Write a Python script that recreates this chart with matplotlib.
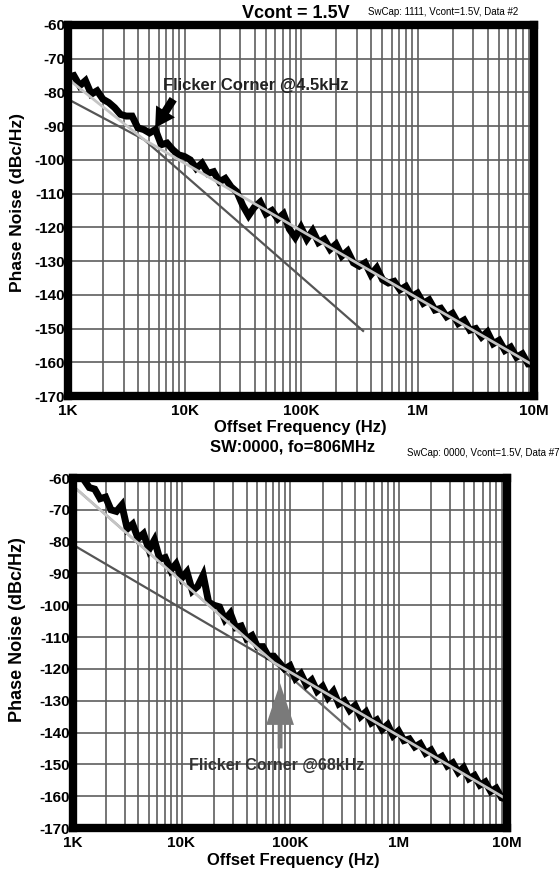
import numpy as np
import matplotlib
matplotlib.use("Agg")
import matplotlib.pyplot as plt
from matplotlib.patches import FancyArrowPatch
from matplotlib.ticker import FixedLocator, LogLocator, NullFormatter

plt.rcParams['font.family'] = ['Liberation Sans', 'DejaVu Sans']

# ---- data -------------------------------------------------------------
# analyzer sweep grid: 20 points per decade, 1 kHz .. 10 MHz
freq_top = 10 ** (3 + np.arange(81) / 20)
freq_bot = 10 ** (3 + np.arange(2, 81) / 20)

pn_top = [-75.5, -75.0, -78.0, -76.5, -80.5, -79.5, -82.0, -83.0, -84.5, -86.5,
          -87.0, -87.0, -90.5, -91.0, -92.0, -91.0, -95.5, -95.0, -97.0, -98.5,
          -99.0, -100.0, -102.5, -101.0, -104.0, -103.5, -106.5, -105.5, -108.0, -109.5,
          -113.5, -116.5, -114.0, -112.5, -116.0, -115.0, -117.5, -116.0, -120.5, -123.0,
          -120.0, -123.5, -121.0, -124.5, -123.5, -126.5, -125.0, -128.5, -127.0, -130.5,
          -131.5, -130.5, -134.0, -132.0, -135.5, -136.5, -136.0, -138.5, -137.5, -140.5,
          -139.5, -142.5, -141.5, -144.5, -144.0, -146.5, -145.5, -148.5, -147.5, -150.5,
          -150.0, -152.5, -151.0, -154.5, -153.5, -156.5, -155.5, -158.5, -157.5, -160.5,
          -160.5]

pn_bot = [-60.5, -63.0, -63.5, -66.5, -66.0, -70.0, -70.5, -68.5,
          -76.0, -74.5, -79.0, -77.5, -82.5, -79.5, -85.5, -85.0, -89.0, -87.0,
          -91.5, -89.5, -95.5, -94.0, -90.5, -99.0, -100.0, -100.5, -104.5, -102.5,
          -107.0, -106.5, -110.5, -109.5, -113.0, -113.0, -116.0, -116.0, -118.0, -120.0,
          -119.0, -123.0, -121.5, -125.0, -123.5, -127.0, -125.5, -129.0, -127.0, -131.0,
          -130.0, -133.0, -131.5, -135.0, -133.5, -137.0, -136.0, -139.0, -137.5, -141.0,
          -139.5, -142.5, -142.0, -144.5, -143.5, -146.5, -145.5, -148.5, -147.5, -150.5,
          -149.5, -152.5, -151.0, -154.5, -153.5, -156.5, -155.5, -158.5, -157.5, -160.5,
          -161.0]

# fitted model (light) and asymptotes (dark), vertices in (Hz, dBc/Hz)
fit_top_f = [1e3, 4.5e3, 1e7]
fit_top_l = [-76.0, -94.0, -161.0]
asym_top_f = [1e3, 4.5e3, 3.41e5]
asym_top_l = [-82.0, -94.0, -150.7]

fit_bot_f = [1e3, 7.1e4, 1e7]
fit_bot_l = [-62.5, -118.0, -161.0]
asym2_bot_f = [1e3, 1e7]
asym2_bot_l = [-81.0, -161.0]
asym3_bot_f = [1e3, 3.57e5]
asym3_bot_l = [-62.5, -139.0]

x_ticks = [1e3, 1e4, 1e5, 1e6, 1e7]
x_ticklabels = ['1K', '10K', '100K', '1M', '10M']
y_ticks = list(range(-170, -59, 10))

W, H = 560, 872
fig = plt.figure(figsize=(W / 100, H / 100), dpi=100)


def axes_px(left, top, right, bottom):
    return fig.add_axes([left / W, 1 - bottom / H, (right - left) / W, (bottom - top) / H])


def style(ax):
    ax.set_xscale('log')
    ax.set_xlim(1e3, 1e7)
    ax.set_ylim(-170, -60)
    ax.xaxis.set_major_locator(FixedLocator(x_ticks))
    ax.xaxis.set_minor_locator(LogLocator(base=10, subs=np.arange(2, 10)))
    ax.xaxis.set_minor_formatter(NullFormatter())
    ax.set_xticklabels(x_ticklabels)
    ax.set_yticks(y_ticks)
    ax.set_yticklabels([str(v) for v in y_ticks])
    ax.tick_params(which='both', length=0)
    ax.tick_params(axis='y', pad=2)
    ax.tick_params(axis='x', pad=6)
    for lab in ax.get_xticklabels() + ax.get_yticklabels():
        lab.set_fontweight('bold')
        lab.set_fontsize(11)
    ax.grid(True, which='both', axis='x', color='#5e5e5e', lw=1.2)
    ax.grid(True, which='major', axis='y', color='#5e5e5e', lw=1.2)
    ax.set_axisbelow(True)
    for sp in ax.spines.values():
        sp.set_linewidth(6)
        sp.set_color('black')
        sp.set_zorder(10)


def arrow(ax, tail, tip, style_str, color):
    ax.add_patch(FancyArrowPatch(tail, tip, arrowstyle=style_str, color=color, lw=0,
                                 mutation_scale=10, shrinkA=0, shrinkB=0, zorder=6))


TRACE_LW = 5.0

# ---- top panel ---------------------------------------------------------
ax1 = axes_px(68, 25, 534, 396)
style(ax1)
ax1.plot(asym_top_f, asym_top_l, color='#555555', lw=1.6, zorder=3)
ax1.plot(freq_top, pn_top, color='black', lw=TRACE_LW, zorder=4, solid_joinstyle='miter')
ax1.plot(fit_top_f, fit_top_l, color='#c4c4c4', lw=2.0, zorder=5)
arrow(ax1, (8.0e3, -82.0), (5.6e3, -90.5),
      'simple,head_width=1.6,head_length=1.4,tail_width=0.6', 'black')
ax1.text(4.1e4, -77.8, 'Flicker Corner @4.5kHz', ha='center', va='center',
         fontsize=12, fontweight='bold', color='#222222', zorder=6)

# ---- bottom panel ------------------------------------------------------
ax2 = axes_px(73, 478, 507, 828)
style(ax2)
ax2.plot(asym2_bot_f, asym2_bot_l, color='#555555', lw=1.6, zorder=3)
ax2.plot(asym3_bot_f, asym3_bot_l, color='#6a6a6a', lw=1.6, zorder=3)
ax2.plot(freq_bot, pn_bot, color='black', lw=TRACE_LW, zorder=4, solid_joinstyle='miter')
ax2.plot(fit_bot_f, fit_bot_l, color='#c4c4c4', lw=2.0, zorder=5)
arrow(ax2, (8.1e4, -145.0), (8.1e4, -124.5),
      'simple,head_width=2.0,head_length=3.0,tail_width=0.35', '#7a7a7a')
ax2.text(7.6e4, -150.3, 'Flicker Corner @68kHz', ha='center', va='center',
         fontsize=11.5, fontweight='bold', color='#333333', zorder=6)

# ---- titles and labels -------------------------------------------------
def ftext(x, y, s, **kw):
    fig.text(x / W, 1 - y / H, s, **kw)


ftext(296, 13, 'Vcont = 1.5V', ha='center', va='center', fontsize=13, fontweight='bold')
ftext(368, 12, 'SwCap: 1111, Vcont=1.5V, Data #2', ha='left', va='center', fontsize=7)
ftext(300, 427, 'Offset Frequency (Hz)', ha='center', va='center', fontsize=12, fontweight='bold')
ftext(293, 447, 'SW:0000, fo=806MHz', ha='center', va='center', fontsize=12, fontweight='bold')
ftext(407, 453, 'SwCap: 0000, Vcont=1.5V, Data #7', ha='left', va='center', fontsize=7)
ftext(293, 860, 'Offset Frequency (Hz)', ha='center', va='center', fontsize=12, fontweight='bold')
ftext(18, 203, 'Phase Noise (dBc/Hz)', ha='center', va='center', rotation=90,
      fontsize=12.5, fontweight='bold')
ftext(18, 630, 'Phase Noise (dBc/Hz)', ha='center', va='center', rotation=90,
      fontsize=13, fontweight='bold')

fig.savefig('out.png', dpi=100)
